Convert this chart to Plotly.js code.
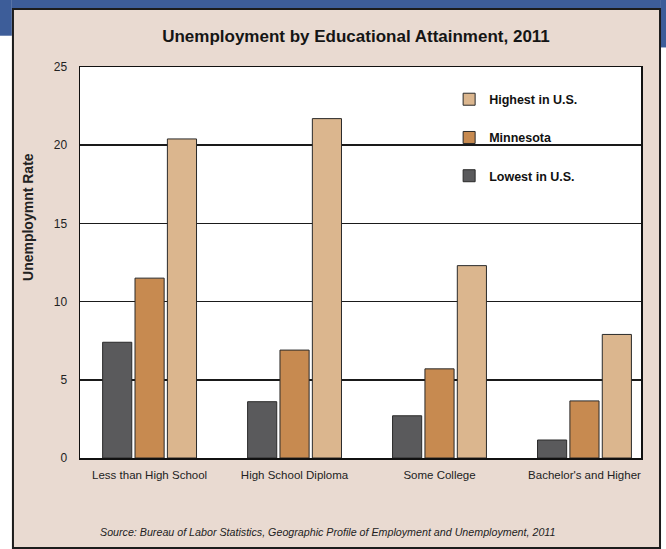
<!DOCTYPE html>
<html>
<head>
<meta charset="utf-8">
<script src="https://cdn.plot.ly/plotly-3.0.1.min.js"></script>
<style>html,body{margin:0;padding:0;background:#fff;}</style>
</head>
<body>
<div id="chart" style="width:666px;height:549px;"></div>
<script>
const categories = ["Less than High School", "High School Diploma", "Some College", "Bachelor's and Higher"];
const lowestUS = [7.4, 3.6, 2.7, 1.15];
const minnesota = [11.5, 6.9, 5.7, 3.65];
const highestUS = [20.4, 21.7, 12.3, 7.9];
const seriesNames = ["Lowest in U.S.", "Minnesota", "Highest in U.S."];
const legendRanks = [3, 2, 1];
const yTicks = [0, 5, 10, 15, 20, 25];

const FONT = '"Liberation Sans", Arial, sans-serif';
const colors = ["#5a5a5c", "#c78a50", "#dbb68e"];
const series = [lowestUS, minnesota, highestUS];

const traces = series.map((vals, i) => ({
  type: 'bar',
  name: seriesNames[i],
  x: categories,
  y: vals,
  legendgroup: 'g' + i,
  legendrank: legendRanks[i],
  marker: {color: colors[i], line: {color: '#2a2a2a', width: 1}},
  hoverinfo: 'x+y+name'
}));

const BLUE = '#3d5d99';
const layout = {
  width: 666, height: 549,
  margin: {l: 80, r: 25, t: 67, b: 91, pad: 0},
  paper_bgcolor: '#e9dad1',
  plot_bgcolor: '#ffffff',
  barmode: 'group',
  bargap: 0.33,
  bargroupgap: 0.1,
  showlegend: true,
  legend: {
    x: 0.658, y: 0.955, xanchor: 'left', yanchor: 'top',
    traceorder: 'grouped', tracegroupgap: 19,
    bgcolor: 'rgba(255,255,255,0)',
    font: {family: FONT, size: 12.5, color: '#111', weight: 'bold'},
    itemwidth: 30
  },
  title: {
    text: '<b>Unemployment by Educational Attainment, 2011</b>',
    font: {family: FONT, size: 17, color: '#151515'},
    x: 0.492, xanchor: 'center', y: 0.935, yanchor: 'middle', xref: 'paper'
  },
  xaxis: {
    type: 'category',
    range: [-0.48, 3.39],
    showline: true, linecolor: '#111', linewidth: 1.5, mirror: true,
    ticks: '', showgrid: false, ticklabelstandoff: 6,
    tickfont: {family: FONT, size: 11.5, color: '#222'},
    fixedrange: true
  },
  yaxis: {
    range: [0, 25],
    tickvals: yTicks,
    ticktext: yTicks.map(String),
    showline: true, linecolor: '#111', linewidth: 1.5, mirror: true,
    showgrid: true, gridcolor: '#1a1a1a', gridwidth: 1.5,
    zeroline: false,
    ticks: '', ticklen: 0, ticklabelstandoff: 9,
    tickfont: {family: FONT, size: 12, color: '#222'},
    fixedrange: true
  },
  shapes: [
    {type: 'rect', xref: 'paper', yref: 'paper', layer: 'above',
     x0: -0.143, x1: 1.045, y0: 1.1483, y1: 1.175, fillcolor: BLUE, line: {width: 0}},
    {type: 'rect', xref: 'paper', yref: 'paper', layer: 'above',
     x0: -0.143, x1: -0.1215, y0: -0.235, y1: 1.175, fillcolor: '#ffffff', line: {width: 0}},
    {type: 'rect', xref: 'paper', yref: 'paper', layer: 'above',
     x0: -0.143, x1: -0.1215, y0: 1.08, y1: 1.175, fillcolor: BLUE, line: {width: 0}},
    {type: 'rect', xref: 'paper', yref: 'paper', layer: 'above',
     x0: 1.0355, x1: 1.045, y0: -0.235, y1: 1.175, fillcolor: '#ffffff', line: {width: 0}},
    {type: 'rect', xref: 'paper', yref: 'paper', layer: 'above',
     x0: 1.0355, x1: 1.045, y0: 1.05, y1: 1.175, fillcolor: BLUE, line: {width: 0}},
    {type: 'rect', xref: 'paper', yref: 'paper', layer: 'above',
     x0: -0.1195, x1: 1.0339, y0: -0.2302, y1: 1.1483,
     fillcolor: 'rgba(0,0,0,0)', line: {color: '#1c1c1c', width: 2}}
  ],
  annotations: [
    {text: '<b>Unemploymnt Rate</b>', textangle: -90,
     xref: 'paper', yref: 'paper', x: -0.093, y: 0.616, xanchor: 'center', yanchor: 'middle',
     showarrow: false, font: {family: FONT, size: 14, color: '#222'}},
    {text: '<i>Source: Bureau of Labor Statistics, Geographic Profile of Employment and Unemployment, 2011</i>',
     xref: 'paper', yref: 'paper', x: 0.032, y: -0.19, xanchor: 'left', yanchor: 'middle',
     showarrow: false, font: {family: FONT, size: 10.7, color: '#222'}}
  ]
};

Plotly.newPlot('chart', traces, layout, {displayModeBar: false, staticPlot: true});
</script>
</body>
</html>
